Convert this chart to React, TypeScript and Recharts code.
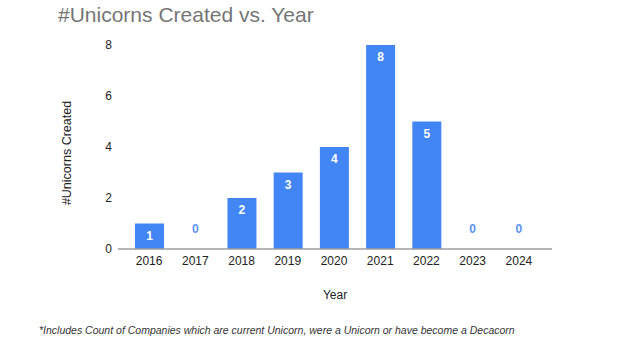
import { ComposedChart, Bar, Line, XAxis, YAxis, Label, LabelList } from "recharts";

const years = ["2016", "2017", "2018", "2019", "2020", "2021", "2022", "2023", "2024"];
const unicorns = [1, 0, 2, 3, 4, 8, 5, 0, 0];
const yTicks = [0, 2, 4, 6, 8];

const data = years.map((year, i) => ({ year, count: unicorns[i] }));

const BLUE = "#4285F4";
const FONT = "'Liberation Sans', Arial, sans-serif";

// white label inside the top of each bar
function BarValue(props: any) {
  const { x, y, width, value } = props;
  if (!value) return null;
  return (
    <text x={x + width / 2} y={y + 12} textAnchor="middle" dominantBaseline="central"
      fill="#fff" fontSize={12} fontWeight="bold" fontFamily={FONT}>
      {value}
    </text>
  );
}

// zero bars have no rectangle, so their blue label hangs off an invisible line
function ZeroValue(props: any) {
  const { x, y, value } = props;
  if (value !== 0) return null;
  return (
    <text x={x} y={y - 20} textAnchor="middle" dominantBaseline="central"
      fill="#5b93f5" fontSize={12} fontWeight="bold" fontFamily={FONT}>
      {value}
    </text>
  );
}

export default function App() {
  return (
    <div style={{ position: "absolute", left: 0, top: 0, width: 640, height: 358, background: "#fff", fontFamily: FONT }}>
      <div style={{ position: "absolute", left: 58, top: 3, fontSize: 21, lineHeight: "24px", color: "#757575" }}>
        #Unicorns Created vs. Year
      </div>
      <ComposedChart width={640} height={358} data={data}
        margin={{ top: 45, right: 88, bottom: 49, left: 0 }}>
        <XAxis dataKey="year" height={60} padding={{ left: 8, right: 10 }}
          tickLine={false} tickSize={0} tickMargin={7}
          axisLine={{ stroke: "#9e9e9e", strokeWidth: 1.5 }}
          tick={{ fill: "#222", fontSize: 12, fontFamily: FONT }}>
          <Label value="Year" position="insideBottom" offset={10}
            style={{ fill: "#222", fontSize: 12, fontFamily: FONT }} />
        </XAxis>
        <YAxis width={118} domain={[0, 8]} ticks={yTicks} axisLine={false}
          tickLine={false} tickSize={0} tickMargin={6}
          tick={{ fill: "#222", fontSize: 12, fontFamily: FONT }}>
          <Label value="#Unicorns Created" angle={-90} position="center" dx={8} dy={6}
            style={{ fill: "#222", fontSize: 12.5, fontFamily: FONT, textAnchor: "middle" }} />
        </YAxis>
        <Bar dataKey="count" fill={BLUE} barSize={29} isAnimationActive={false}>
          <LabelList dataKey="count" content={BarValue} />
        </Bar>
        <Line dataKey="count" stroke="none" dot={false} activeDot={false} isAnimationActive={false}>
          <LabelList dataKey="count" content={ZeroValue} />
        </Line>
      </ComposedChart>
      <div style={{ position: "absolute", left: 39, top: 324, fontSize: 10.5, fontStyle: "italic", color: "#333", whiteSpace: "nowrap" }}>
        *Includes Count of Companies which are current Unicorn, were a Unicorn or have become a Decacorn
      </div>
    </div>
  );
}
